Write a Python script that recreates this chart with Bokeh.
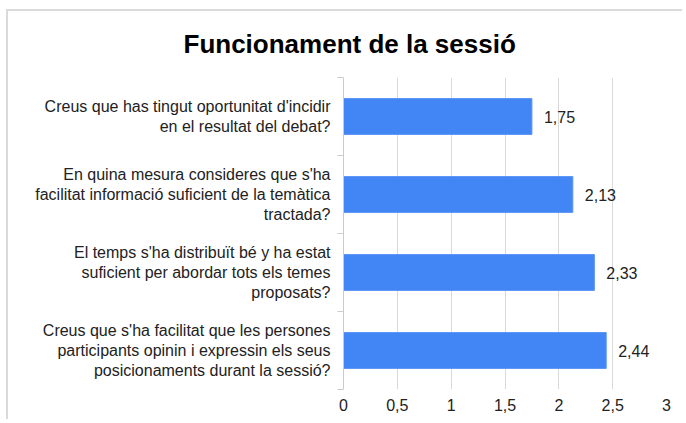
from bokeh.plotting import figure
from bokeh.models import (Range1d, LinearAxis, FixedTicker,
                          ColumnDataSource, LabelSet)
from bokeh.core.properties import value
from bokeh.embed import file_html
from bokeh.resources import INLINE

title = "Funcionament de la sessió"
categories = [
    "Creus que has tingut oportunitat d'incidir\nen el resultat del debat?",
    "En quina mesura consideres que s'ha\nfacilitat informació suficient de la temàtica\ntractada?",
    "El temps s'ha distribuït bé y ha estat\nsuficient per abordar tots els temes\nproposats?",
    "Creus que s'ha facilitat que les persones\nparticipants opinin i expressin els seus\nposicionaments durant la sessió?",
]
values = [1.75, 2.13, 2.33, 2.44]
value_labels = ["1,75", "2,13", "2,33", "2,44"]
x_ticks = [0, 0.5, 1, 1.5, 2, 2.5, 3]
x_tick_labels = ["0", "0,5", "1", "1,5", "2", "2,5", "3"]

FONT = "Liberation Sans"
n = len(categories)
# first category on top: slot centres from the top
ypos = [n - 0.5 - i for i in range(n)]

p = figure(width=676, height=410, output_backend="svg", toolbar_location=None,
           y_range=Range1d(0, n), x_range=Range1d(0, 3),
           y_axis_location=None, x_axis_location="below",
           min_border_left=335, min_border_right=18, min_border_top=66, min_border_bottom=32)
p.styles = {"border-left": "2px solid #dadada", "border-top": "2px solid #dadada",
            "margin-top": "9px", "margin-left": "6px"}
p.outline_line_color = None
p.background_fill_color = "white"
p.border_fill_color = "white"

p.title.text = title
p.title.text_font = FONT
p.title.text_font_size = "26px"
p.title.text_font_style = "bold"
p.title.text_color = "#000000"
p.title.align = "left"
p.title.vertical_align = "top"
p.title.offset = -160
p.title.standoff = 34

src = ColumnDataSource(dict(y=ypos, val=values, lab=value_labels))
p.hbar(y="y", right="val", left=0, height=0.46, source=src,
       fill_color="#4285F4", line_color="#5b95f5", line_width=1)

p.add_layout(LabelSet(x="val", y="y", text="lab", source=src, x_offset=12,
                      text_baseline="middle", text_align="left",
                      text_font=value(FONT), text_font_size=value("16px"),
                      text_color="#222222"))

# x axis
xa = p.xaxis[0]
xa.ticker = FixedTicker(ticks=x_ticks)
xa.major_label_overrides = {t: s for t, s in zip(x_ticks, x_tick_labels)}
xa.axis_line_color = None
xa.major_tick_line_color = None
xa.minor_tick_line_color = None
xa.major_label_standoff = 3
xa.major_label_text_font = FONT
xa.major_label_text_font_size = "16px"
xa.major_label_text_color = "#222222"

p.xgrid.ticker = FixedTicker(ticks=x_ticks)
p.xgrid.grid_line_color = "#d9d9d9"
p.ygrid.grid_line_color = None

# axis with separator ticks between categories
ba = LinearAxis(ticker=FixedTicker(ticks=list(range(n + 1))))
ba.major_label_overrides = {i: "" for i in range(n + 1)}
ba.major_label_text_font_size = "1px"
ba.major_label_standoff = 0
ba.major_tick_out = 6
ba.major_tick_in = 0
ba.minor_tick_line_color = None
ba.axis_line_color = "#cccccc"
ba.major_tick_line_color = "#cccccc"
p.add_layout(ba, "left")

# category label axis
ca = LinearAxis(ticker=FixedTicker(ticks=ypos))
ca.major_label_overrides = {y: c for y, c in zip(ypos, categories)}
ca.axis_line_color = None
ca.major_tick_line_color = None
ca.minor_tick_line_color = None
ca.major_label_standoff = 1
ca.major_label_text_align = "center"
ca.major_label_text_font = FONT
ca.major_label_text_font_size = "16px"
ca.major_label_text_color = "#222222"
p.add_layout(ca, "left")

open("out.html", "w").write(file_html(p, INLINE))
